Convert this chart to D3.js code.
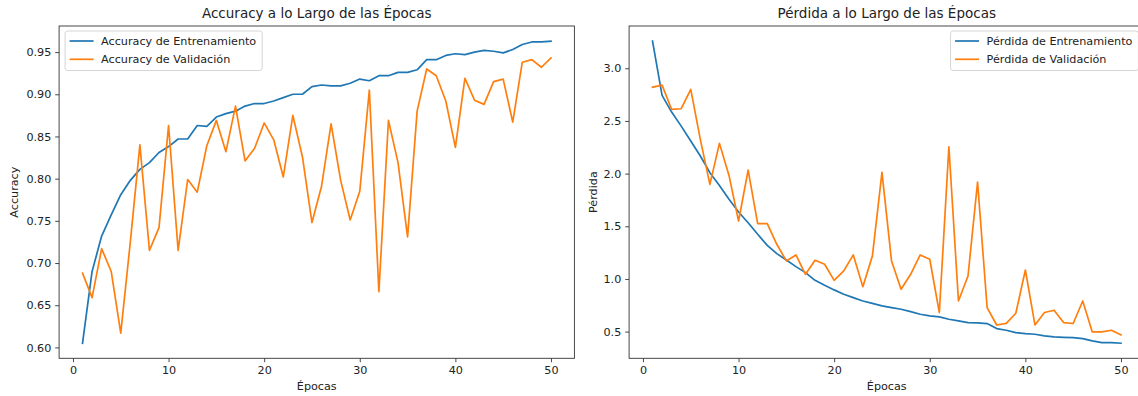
<!DOCTYPE html>
<html>
<head>
<meta charset="utf-8">
<script src="https://cdn.jsdelivr.net/npm/d3@7"></script>
<style>
    body { margin: 0; background: #fff; }
    svg { display: block; font-family: 'DejaVu Sans', sans-serif; }
</style>
</head>
<body>
<script>
// epochs 1..50
var epochs = d3.range(1, 51);

var trainAcc = [
    0.605, 0.690, 0.732, 0.757, 0.781, 0.798, 0.811, 0.819, 0.831, 0.838,
    0.847, 0.847, 0.863, 0.862, 0.873, 0.877, 0.880, 0.886, 0.889, 0.889,
    0.892, 0.896, 0.900, 0.900, 0.909, 0.911, 0.910, 0.910, 0.913, 0.918,
    0.916, 0.922, 0.922, 0.926, 0.926, 0.929, 0.941, 0.941, 0.946, 0.948,
    0.947, 0.950, 0.952, 0.951, 0.949, 0.953, 0.959, 0.962, 0.962, 0.963
];
var valAcc = [
    0.688, 0.659, 0.717, 0.690, 0.617, 0.725, 0.840, 0.715, 0.742, 0.863,
    0.715, 0.799, 0.784, 0.839, 0.869, 0.832, 0.886, 0.821, 0.836, 0.866,
    0.846, 0.802, 0.875, 0.826, 0.748, 0.791, 0.865, 0.798, 0.751, 0.785,
    0.905, 0.666, 0.869, 0.819, 0.731, 0.880, 0.930, 0.922, 0.892, 0.837,
    0.919, 0.893, 0.888, 0.915, 0.918, 0.867, 0.938, 0.941, 0.932, 0.943
];
var trainLoss = [
    3.258, 2.743, 2.584, 2.451, 2.309, 2.167, 2.009, 1.888, 1.756, 1.636,
    1.534, 1.424, 1.319, 1.240, 1.180, 1.117, 1.060, 0.987, 0.940, 0.896,
    0.855, 0.823, 0.791, 0.768, 0.745, 0.728, 0.712, 0.690, 0.665, 0.649,
    0.640, 0.617, 0.602, 0.586, 0.582, 0.576, 0.529, 0.513, 0.491, 0.481,
    0.475, 0.459, 0.450, 0.446, 0.443, 0.434, 0.412, 0.396, 0.396, 0.390
];
var valLoss = [
    2.821, 2.840, 2.609, 2.616, 2.799, 2.325, 1.898, 2.287, 1.983, 1.550,
    2.033, 1.525, 1.525, 1.329, 1.171, 1.228, 1.044, 1.177, 1.139, 0.987,
    1.076, 1.228, 0.927, 1.219, 2.012, 1.171, 0.902, 1.044, 1.228, 1.187,
    0.681, 2.255, 0.791, 1.028, 1.920, 0.728, 0.563, 0.579, 0.674, 1.085,
    0.563, 0.681, 0.703, 0.586, 0.577, 0.791, 0.497, 0.497, 0.513, 0.468
];

var epochTicks = [0, 10, 20, 30, 40, 50];
var accTicks = [0.60, 0.65, 0.70, 0.75, 0.80, 0.85, 0.90, 0.95];
var lossTicks = [0.5, 1.0, 1.5, 2.0, 2.5, 3.0];

var blue = '#1f77b4';
var orange = '#ff7f0e';
var tickFont = 11.2;

var svg = d3.select('body').append('svg')
    .attr('width', 1138)
    .attr('height', 396);

// matplotlib style 5% margins
function padded(values) {
    var ext = d3.extent(values);
    var m = (ext[1] - ext[0]) * 0.05;
    return [ext[0] - m, ext[1] + m];
}

function drawPanel(p) {
    var x = d3.scaleLinear().domain(padded(epochs)).range([p.left, p.right]);
    var y = d3.scaleLinear().domain(padded(p.series[0].concat(p.series[1]))).range([p.bottom, p.top]);

    var g = svg.append('g');

    var xAxis = g.append('g')
        .attr('transform', 'translate(0,' + p.bottom + ')')
        .call(d3.axisBottom(x).tickValues(epochTicks).tickFormat(d3.format('d'))
            .tickSize(3.9).tickPadding(3.9).tickSizeOuter(0));

    var yAxis = g.append('g')
        .attr('transform', 'translate(' + p.left + ',0)')
        .call(d3.axisLeft(y).tickValues(p.ticks).tickFormat(d3.format(p.fmt))
            .tickSize(3.9).tickPadding(3.9).tickSizeOuter(0));

    [xAxis, yAxis].forEach(function (ax) {
        ax.select('.domain').remove();
        ax.selectAll('line').attr('stroke', '#333').attr('stroke-width', 0.9);
        ax.selectAll('text')
            .attr('fill', '#222')
            .style('font-family', 'DejaVu Sans')
            .style('font-size', tickFont + 'px');
    });

    var line = d3.line()
        .x(function (d, i) { return x(epochs[i]); })
        .y(function (d) { return y(d); });

    g.append('path').datum(p.series[0])
        .attr('d', line).attr('fill', 'none')
        .attr('stroke', blue).attr('stroke-width', 1.7)
        .attr('stroke-linejoin', 'round').attr('stroke-linecap', 'square');

    g.append('path').datum(p.series[1])
        .attr('d', line).attr('fill', 'none')
        .attr('stroke', orange).attr('stroke-width', 1.7)
        .attr('stroke-linejoin', 'round').attr('stroke-linecap', 'square');

    // frame
    g.append('rect')
        .attr('x', p.left).attr('y', p.top)
        .attr('width', p.right - p.left).attr('height', p.bottom - p.top)
        .attr('fill', 'none').attr('stroke', '#333').attr('stroke-width', 0.9);

    g.append('text')
        .attr('x', (p.left + p.right) / 2).attr('y', 17.8)
        .attr('text-anchor', 'middle')
        .style('font-size', '13.5px').attr('fill', '#222')
        .text(p.title);

    g.append('text')
        .attr('x', (p.left + p.right) / 2).attr('y', 390)
        .attr('text-anchor', 'middle')
        .style('font-size', tickFont + 'px').attr('fill', '#222')
        .text('Épocas');

    g.append('text')
        .attr('transform', 'translate(' + p.ylabelX + ',' + (p.top + p.bottom) / 2 + ') rotate(-90)')
        .attr('text-anchor', 'middle')
        .style('font-size', tickFont + 'px').attr('fill', '#222')
        .text(p.ylabel);

    // legend
    var leg = g.append('g');
    var box = leg.append('rect')
        .attr('rx', 2.5).attr('ry', 2.5)
        .attr('fill', 'white').attr('fill-opacity', 0.8)
        .attr('stroke', '#d0d0d0').attr('stroke-width', 0.9);

    var maxW = 0;
    var labels = [];
    p.names.forEach(function (name, i) {
        var t = leg.append('text')
            .attr('x', 36).attr('y', 10 + i * 18.3)
            .attr('dy', '0.35em')
            .style('font-size', tickFont + 'px').attr('fill', '#222')
            .text(name);
        maxW = Math.max(maxW, t.node().getComputedTextLength());
        labels.push(t);
        leg.append('line')
            .attr('x1', 4.5).attr('x2', 28.5)
            .attr('y1', 10 + i * 18.3).attr('y2', 10 + i * 18.3)
            .attr('stroke', i == 0 ? blue : orange).attr('stroke-width', 1.7);
    });
    var bw = 36 + maxW + 6;
    box.attr('width', bw).attr('height', 39.5);
    var lx = p.legendLeft ? p.left + 6 : p.right - 6 - bw;
    leg.attr('transform', 'translate(' + lx + ',31)');
}

drawPanel({
    left: 59.1, right: 574.4, top: 26, bottom: 358.3,
    series: [trainAcc, valAcc], ticks: accTicks, fmt: '.2f',
    title: 'Accuracy a lo Largo de las Épocas', ylabel: 'Accuracy', ylabelX: 17.5,
    names: ['Accuracy de Entrenamiento', 'Accuracy de Validación'], legendLeft: true
});

drawPanel({
    left: 629.1, right: 1144.4, top: 26, bottom: 358.3,
    series: [trainLoss, valLoss], ticks: lossTicks, fmt: '.1f',
    title: 'Pérdida a lo Largo de las Épocas', ylabel: 'Pérdida', ylabelX: 596.7,
    names: ['Pérdida de Entrenamiento', 'Pérdida de Validación'], legendLeft: false
});
</script>
</body>
</html>
